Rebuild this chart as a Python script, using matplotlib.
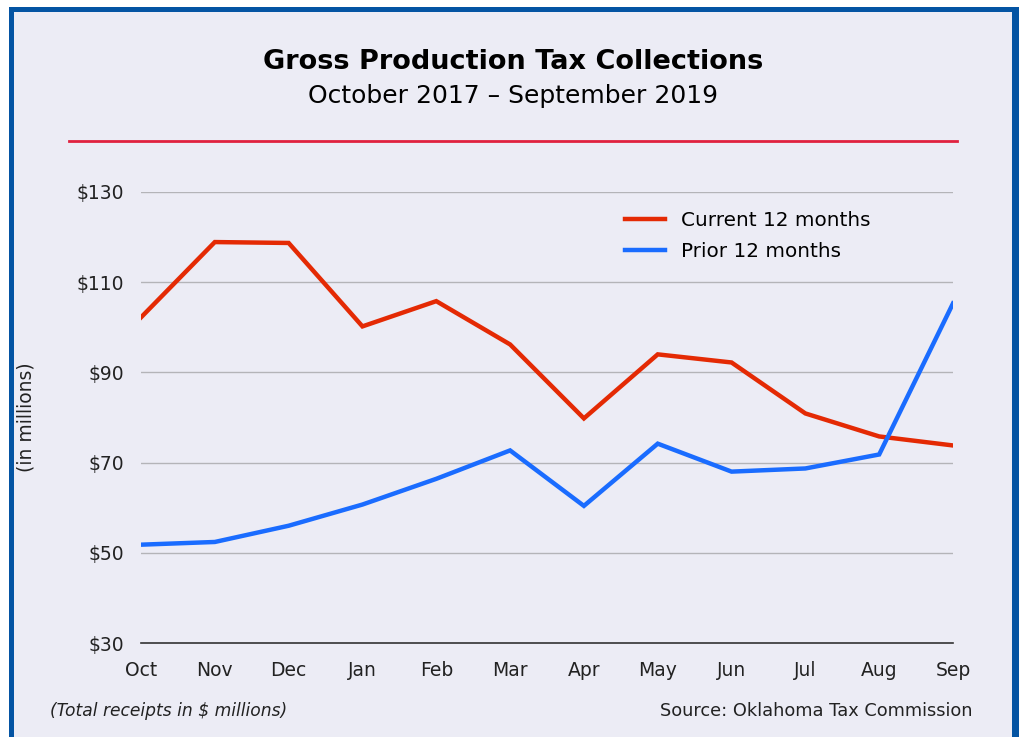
import matplotlib.pyplot as plt
from matplotlib.patches import Rectangle
from matplotlib.lines import Line2D

plt.rcParams['font.family'] = ['DejaVu Sans']

months = ['Oct', 'Nov', 'Dec', 'Jan', 'Feb', 'Mar', 'Apr', 'May', 'Jun', 'Jul', 'Aug', 'Sep']
current = [102.2, 118.9, 118.7, 100.2, 105.8, 96.2, 79.8, 94.0, 92.2, 80.9, 75.8, 73.8]
prior = [51.8, 52.4, 56.0, 60.7, 66.4, 72.7, 60.4, 74.2, 68.0, 68.7, 71.8, 105.3]
yticks = [30, 50, 70, 90, 110, 130]

bg = '#ececf5'
red = '#e42a04'
blue = '#1a6cff'

W, H = 1019, 737
fig = plt.figure(figsize=(W / 100, H / 100), dpi=100)
fig.patch.set_facecolor('white')

# panel background and blue frame
fig.add_artist(Rectangle((9 / W, 0), (1019 - 9) / W, 1 - 7 / H, transform=fig.transFigure,
                         facecolor=bg, edgecolor='none', zorder=0))
frame = dict(transform=fig.transFigure, facecolor='#0454a3', edgecolor='none', zorder=1)
fig.add_artist(Rectangle((9 / W, 0), 5 / W, 1 - 7 / H, **frame))
fig.add_artist(Rectangle((9 / W, 1 - 12 / H), (1019 - 9) / W, 5 / H, **frame))
fig.add_artist(Rectangle((1012 / W, 0), 7 / W, 1 - 7 / H, **frame))

fig.text(513 / W, 1 - 62 / H, 'Gross Production Tax Collections', ha='center', va='center',
         fontsize=19.5, fontweight='bold', color='black')
fig.text(513 / W, 1 - 96 / H, 'October 2017 \u2013 September 2019', ha='center', va='center',
         fontsize=18, color='black')
fig.add_artist(Line2D([69 / W, 957 / W], [1 - 141 / H, 1 - 141 / H], transform=fig.transFigure,
                      color='#e0213f', linewidth=2))

left, right = 141 / W, 953 / W
bottom, top = 1 - 643 / H, 1 - 192 / H
ax = fig.add_axes([left, bottom, right - left, top - bottom])
ax.set_facecolor('none')

x = list(range(len(months)))
ax.plot(x, current, color=red, linewidth=3.2, label='Current 12 months', solid_joinstyle='miter')
ax.plot(x, prior, color=blue, linewidth=3.2, label='Prior 12 months', solid_joinstyle='miter')

ax.set_xlim(0, len(months) - 1)
ax.set_ylim(30, 130)
ax.set_yticks(yticks)
ax.set_yticklabels([f'${v}' for v in yticks])
ax.set_xticks(x)
ax.set_xticklabels(months)
ax.tick_params(axis='both', length=0, labelsize=13.5, colors='#222222')
ax.tick_params(axis='y', pad=12)
ax.tick_params(axis='x', pad=13)
for v in yticks[1:]:
    ax.axhline(v, color='#b4b4b8', linewidth=1, zorder=0)
for s in ['top', 'right', 'left']:
    ax.spines[s].set_visible(False)
ax.spines['bottom'].set_color('#333333')
ax.spines['bottom'].set_linewidth(1.2)

ax.set_ylabel('(in millions)', fontsize=13.5, color='#222222')
ax.yaxis.set_label_coords((35 - 141) / (953 - 141), 0.5)

ax.legend(loc='upper left', bbox_to_anchor=((607 - 141) / (953 - 141), 1 - (193 - 192) / (643 - 192)),
          frameon=False, fontsize=14.4, handlelength=2.0, handletextpad=0.8, labelspacing=0.6)

fig.text(50 / W, 1 - 711 / H, '(Total receipts in $ millions)', ha='left', va='center',
         fontsize=12.3, style='italic', color='#222222')
fig.text(972 / W, 1 - 711 / H, 'Source: Oklahoma Tax Commission', ha='right', va='center',
         fontsize=12.8, color='#222222')

fig.savefig('out.png', dpi=100, facecolor=fig.get_facecolor())
